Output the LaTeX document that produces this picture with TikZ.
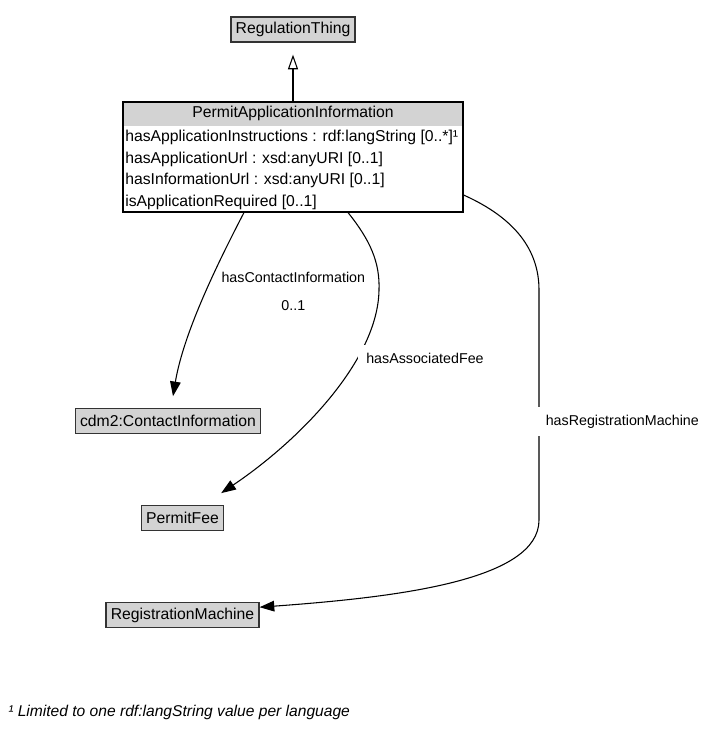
\documentclass[tikz,border=0pt]{standalone}
\usepackage{fontspec}
\setmainfont{Liberation Sans}
\usetikzlibrary{arrows.meta,calc}
\definecolor{clsfill}{HTML}{D3D3D3}
\definecolor{clsline}{HTML}{333333}
\tikzset{
  cls/.style={draw=clsline, fill=clsfill, line width=0.9pt, minimum height=18.75pt, inner xsep=3.6pt, inner ysep=0pt, font=\fontsize{11.8}{14}\selectfont},
  attr/.style={anchor=base west, inner sep=0pt, font=\fontsize{11.8}{14}\selectfont},
  lbl/.style={fill=white, inner sep=1.5pt, font=\fontsize{10.7}{13}\selectfont},
  assoc/.style={line width=0.8pt, -{Triangle[length=11pt,width=8pt]}},
  isa/.style={line width=0.8pt, -{Triangle[open,length=11pt,width=7.5pt]}}
}
\begin{document}
\begin{tikzpicture}[x=0.75pt,y=-0.75pt]
	\useasboundingbox (0,0) rectangle (710,742);
	
	\node[cls] (regthing) at (293,29.5) {RegulationThing};
	
	\node[fill=clsfill, minimum width=255pt, minimum height=17.6pt, inner sep=0pt, font=\fontsize{11.8}{14}\selectfont] (paihead) at (293,113.8) {PermitApplicationInformation};
	\node[draw, line width=0.8pt, minimum width=255pt, minimum height=82.5pt, inner sep=0pt] (pai) at (293,157) {};
	\node[attr] (attr1) at (125,141.5) {hasApplicationInstructions : rdf:langString [0..*]¹};
	\node[attr] (attr2) at (125,163) {hasApplicationUrl : xsd:anyURI [0..1]};
	\node[attr] (attr3) at (125,184.5) {hasInformationUrl : xsd:anyURI [0..1]};
	\node[attr] (attr4) at (125,206) {isApplicationRequired [0..1]};
	
	\node[cls] (contact) at (168,420.8) {cdm2:ContactInformation};
	\node[cls] (fee) at (182.5,518.2) {PermitFee};
	\node[cls] (regmach) at (182.5,615.2) {RegistrationMachine};
	
	\draw[isa] (pai.north) -- ($(regthing.south)+(0,12)$);
	\draw[assoc] ($(pai.south)+(-49,0)$) .. controls (222,255) and (184,330) .. ($(contact.north)+(5,-11.5)$);
	\draw[assoc] ($(pai.south)+(55,0)$) .. controls (370,240) and (380,262) .. (379,290) .. controls (378,360) and (300,440) .. ($(fee.north east)+(-3,-12)$);
	\draw[assoc] ($(pai.east)+(0,38)$) .. controls (515,218) and (539,250) .. (539,290) -- (539,520) .. controls (539,580) and (400,597) .. ($(regmach.east)+(0,-8)$);
	
	\node[lbl] (lblcontact) at (293.3,277.3) {hasContactInformation};
	\node[lbl] (lblmult) at (293.3,306) {0..1};
	\node[lbl, minimum height=20pt, inner xsep=6pt, anchor=west] (lblfee) at (358,358.3) {hasAssociatedFee};
	\node[lbl, minimum height=22pt, inner xsep=6pt, anchor=west] (lblregmach) at (537.5,421.7) {hasRegistrationMachine};
	
	\node[anchor=west, inner sep=0pt, font=\fontsize{11.7}{14}\selectfont\itshape] (footnote) at (8,712) {¹ Limited to one rdf:langString value per language};
\end{tikzpicture}
\end{document}
